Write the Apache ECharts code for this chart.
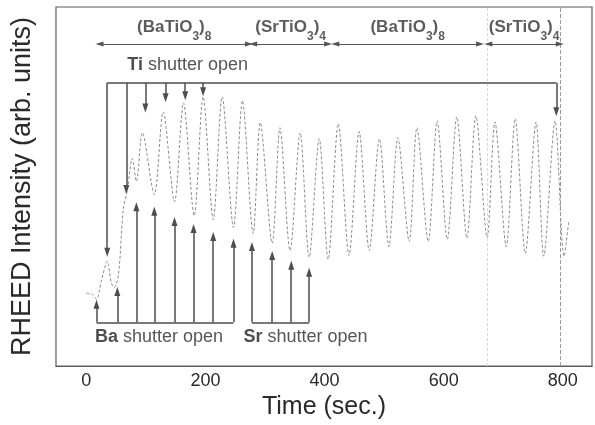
<!DOCTYPE html>
<html>
<head>
<meta charset="utf-8">
<title>RHEED oscillations</title>
<script src="https://cdn.jsdelivr.net/npm/echarts@6/dist/echarts.min.js"></script>
<style>
  *{margin:0;padding:0;}
  body{background:#fff;}
  #main{width:595px;height:425px;}
</style>
</head>
<body>
<div id="main"></div>
<script type="text/javascript">
// RHEED intensity trace (time in s, intensity in arb. units 0-100)
var curveT = [0, 10, 17, 25, 35, 42, 47, 54, 62, 69, 77, 84, 94, 114, 129, 148, 163, 181, 196, 213, 228, 247, 262, 280,
              292, 312, 325, 342, 359, 374, 391, 406, 423, 441, 458, 475, 492, 508, 523, 542, 555, 574, 589, 606,
              622, 639, 654, 673, 686, 705, 720, 737, 755, 768, 787, 802, 810];
var curveV = [20.3, 20.0, 18.6, 23.6, 29.2, 23.1, 21.9, 25.6, 43.6, 49.2, 57.8, 51.4, 65.0, 47.8, 70.8, 45.8, 73.3, 41.9,
              75.0, 40.8, 75.0, 38.6, 73.9, 36.9, 67.8, 34.2, 66.4, 32.2, 65.0, 30.3, 63.3, 29.7, 67.5, 30.8, 65.3,
              32.2, 63.3, 33.3, 63.6, 34.7, 66.4, 34.7, 68.3, 35.3, 69.4, 35.6, 69.7, 35.8, 68.0, 33.3, 68.9, 31.4,
              68.0, 30.6, 68.3, 30.6, 40.3];

// shutter markers
var tiT = [35, 67, 99, 133, 166, 196, 789];
var tiTip = [31.7, 49.2, 71.9, 74.7, 75.3, 76.4, 70.8];
var tiBarY = 78.9;
var baT = [17, 52, 84, 114, 148, 180, 213, 247];
var baTip = [17.2, 20.8, 44.4, 43.1, 40.3, 38.3, 36.1, 34.2];
var srT = [278, 312, 344, 374];
var srTip = [33.3, 30.8, 28.1, 26.1];
var shutterBarY = 12.2;

// layer brackets along the top
var layerNames = ['{m|(BaTiO}{s|3}{m|)}{s|8}', '{m|(SrTiO}{s|3}{m|)}{s|4}', '{m|(BaTiO}{s|3}{m|)}{s|8}', '{m|(SrTiO}{s|3}{m|)}{s|4}'];
var layerStart = [22, 280, 418, 675];
var layerEnd = [273, 406, 661, 795];
var layerY = 89.7;
var layerLabelY = 93.4;

// text labels
var noteText = ['{b|Ti} shutter open', '{b|Ba} shutter open', '{b|Sr} shutter open'];
var noteT = [170, 122, 368];
var noteV = [83.9, 8.0, 8.0];

var guideT = [673, 796];
var xTicks = [0, 200, 400, 600, 800];

var myChart = echarts.init(document.getElementById('main'));

function vLines(ts, tips, base) {
    var out = [];
    for (var i = 0; i < ts.length; i++) {
        out.push([{coord: [ts[i], base]}, {coord: [ts[i], tips[i]]}]);
    }
    return out;
}
function hLine(t0, t1, y) {
    return [{coord: [t0, y], symbol: 'none'}, {coord: [t1, y], symbol: 'none'}];
}

var arrowData = [].concat(
    vLines(tiT, tiTip, tiBarY),
    vLines(baT, baTip, shutterBarY),
    vLines(srT, srTip, shutterBarY),
    [hLine(tiT[0], tiT[tiT.length - 1], tiBarY),
     hLine(baT[0], baT[baT.length - 1], shutterBarY),
     hLine(srT[0], srT[srT.length - 1], shutterBarY)]
);

var layerData = [];
for (var i = 0; i < layerStart.length; i++) {
    layerData.push([{coord: [layerStart[i], layerY]}, {coord: [layerEnd[i], layerY]}]);
}

var labelData = [];
for (var i = 0; i < layerNames.length; i++) {
    labelData.push({value: [(layerStart[i] + layerEnd[i]) / 2, layerLabelY], label: {formatter: layerNames[i]}});
}
for (var i = 0; i < noteText.length; i++) {
    labelData.push({value: [noteT[i], noteV[i]], label: {formatter: noteText[i]}});
}

var curveData = curveT.map(function (t, i) { return [t, curveV[i]]; });

var option = {
    animation: false,
    textStyle: {fontFamily: 'Liberation Sans, Arial, sans-serif'},
    grid: {
        left: 56, right: 3, top: 7, bottom: 58,
        show: true, borderColor: '#5a5a5a', borderWidth: 1.2
    },
    xAxis: {
        type: 'value',
        min: -51, max: 849,
        name: 'Time (sec.)',
        nameLocation: 'middle',
        nameGap: 27,
        nameTextStyle: {fontSize: 25, color: '#2a2a2a'},
        axisLine: {show: true, lineStyle: {color: '#5a5a5a', width: 1.2}},
        axisTick: {show: false},
        splitLine: {show: false},
        axisLabel: {customValues: xTicks, fontSize: 18, color: '#2a2a2a', margin: 6}
    },
    yAxis: {
        type: 'value',
        min: 0, max: 100,
        name: 'RHEED Intensity (arb. units)',
        nameLocation: 'middle',
        nameRotate: 90,
        nameGap: 20,
        nameTextStyle: {fontSize: 27, color: '#2a2a2a'},
        axisLine: {show: false},
        axisTick: {show: false},
        axisLabel: {show: false},
        splitLine: {show: false}
    },
    series: [
        {
            name: 'RHEED',
            type: 'line',
            data: curveData,
            symbol: 'none',
            smooth: 0.3,
            lineStyle: {color: '#8c8c8c', width: 1, type: [3, 2]},
            markLine: {
                silent: true,
                symbol: 'none',
                label: {show: false},
                data: [
                    {xAxis: guideT[0], lineStyle: {color: '#d8d8d8', type: [3, 2], width: 1}},
                    {xAxis: guideT[1], lineStyle: {color: '#999', type: [4, 2], width: 1}}
                ]
            }
        },
        {
            name: 'shutters',
            type: 'line',
            data: [],
            markLine: {
                silent: true,
                symbol: ['none', 'triangle'],
                symbolSize: [6, 9],
                label: {show: false},
                lineStyle: {color: '#4d4d4d', width: 1.5, type: 'solid'},
                data: arrowData
            }
        },
        {
            name: 'layers',
            type: 'line',
            data: [],
            markLine: {
                silent: true,
                symbol: ['triangle', 'triangle'],
                symbolSize: [5, 8],
                label: {show: false},
                lineStyle: {color: '#555', width: 1.2, type: 'solid'},
                data: layerData
            }
        },
        {
            name: 'labels',
            type: 'scatter',
            symbolSize: 0,
            silent: true,
            data: labelData,
            label: {
                show: true,
                position: 'inside',
                color: '#2a2a2a',
                fontSize: 18,
                rich: {
                    b: {fontSize: 18, fontWeight: 'bold', color: '#222'},
                    m: {fontSize: 17, fontWeight: 'bold', color: '#333', verticalAlign: 'top'},
                    s: {fontSize: 12, fontWeight: 'bold', color: '#333', verticalAlign: 'top', padding: [11, 0, 0, 0]}
                }
            }
        }
    ]
};
myChart.setOption(option);
</script>
</body>
</html>
